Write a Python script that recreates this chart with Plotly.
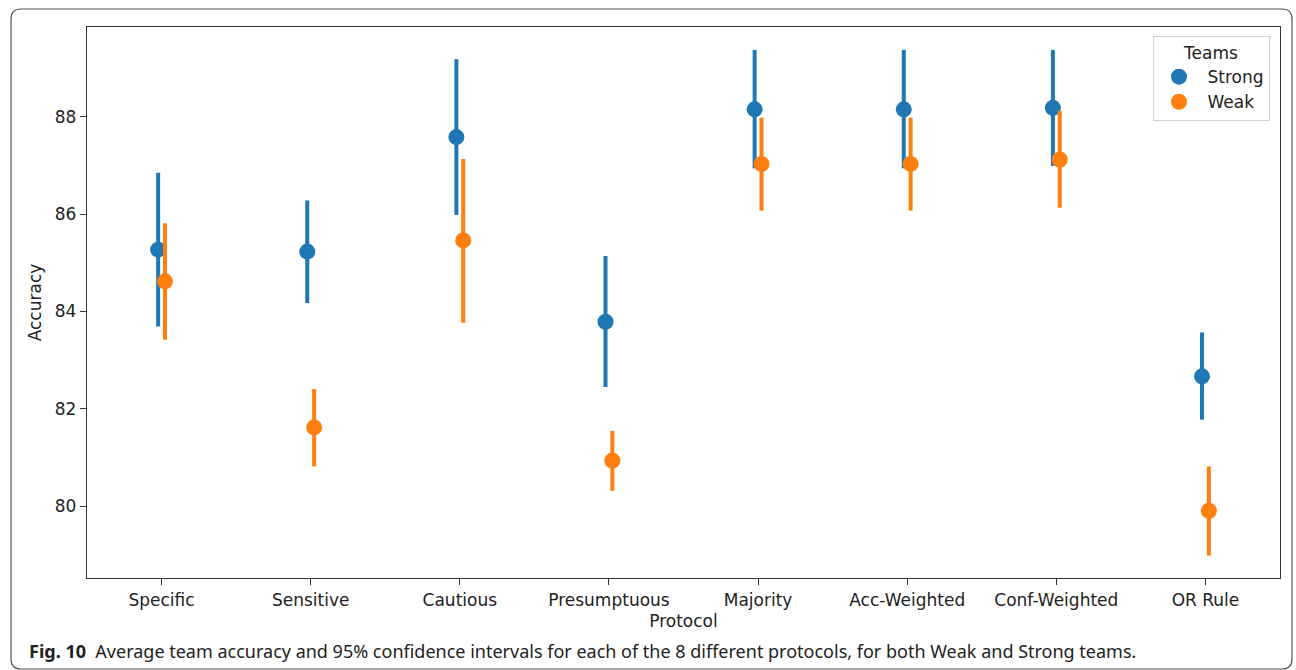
import plotly.graph_objects as go

protocols = ["Specific", "Sensitive", "Cautious", "Presumptuous", "Majority",
             "Acc-Weighted", "Conf-Weighted", "OR Rule"]

strong_mean = [85.27, 85.23, 87.58, 83.79, 88.15, 88.15, 88.18, 82.67]
strong_low = [83.69, 84.17, 85.98, 82.45, 86.94, 86.94, 86.99, 81.78]
strong_high = [86.85, 86.28, 89.18, 85.14, 89.37, 89.37, 89.37, 83.57]

weak_mean = [84.62, 81.62, 85.46, 80.94, 87.03, 87.03, 87.12, 79.91]
weak_low = [83.42, 80.82, 83.77, 80.32, 86.07, 86.07, 86.13, 78.99]
weak_high = [85.81, 82.41, 87.13, 81.55, 87.98, 87.98, 88.12, 80.82]

y_ticks = [80, 82, 84, 86, 88]

BLUE = "#1f77b4"
ORANGE = "#ff7f0e"
FONT = "DejaVu Sans"

W, H = 1296, 670
ML, MR, MT, MB = 87, 16, 27, 92
PW, PH = W - ML - MR, H - MT - MB


def px(x):
    return (x - ML) / PW


def py(y):
    return (H - MB - y) / PH


fig = go.Figure()

for name, mean, low, high, color in [
    ("Strong", strong_mean, strong_low, strong_high, BLUE),
    ("Weak", weak_mean, weak_low, weak_high, ORANGE),
]:
    fig.add_trace(go.Scatter(
        x=protocols, y=mean, name="\u2002" + name, mode="markers",
        offsetgroup=name,
        marker=dict(color=color, size=16, line=dict(width=0)),
        error_y=dict(type="data", symmetric=False,
                     array=[h - m for h, m in zip(high, mean)],
                     arrayminus=[m - l for m, l in zip(mean, low)],
                     color=color, thickness=4, width=0),
        showlegend=True,
    ))

# outer rounded frame
L, T, R, B, r = 11, 9, 1292, 669, 10
path = (f"M {px(L)},{py(B - r)} L {px(L)},{py(T + r)} Q {px(L)},{py(T)} {px(L + r)},{py(T)} "
        f"L {px(R - r)},{py(T)} Q {px(R)},{py(T)} {px(R)},{py(T + r)} "
        f"L {px(R)},{py(B - r)} Q {px(R)},{py(B)} {px(R - r)},{py(B)} "
        f"L {px(L + r)},{py(B)} Q {px(L)},{py(B)} {px(L)},{py(B - r)}")
fig.add_shape(type="path", path=path, xref="paper", yref="paper",
              line=dict(color="#555555", width=1.2), layer="below")

fig.add_annotation(
    x=px(27), y=py(651), xref="paper", yref="paper", xanchor="left", yanchor="middle",
    showarrow=False,
    text="<b>Fig. 10</b>  Average team accuracy and 95% confidence intervals for each of the 8 different protocols, for both Weak and Strong teams.",
    font=dict(family="Noto Sans", size=18, color="#222222"),
)

fig.update_layout(
    width=W, height=H,
    margin=dict(l=ML, r=MR, t=MT, b=MB),
    paper_bgcolor="white", plot_bgcolor="white",
    scattermode="group", scattergap=0.908,
    font=dict(family=FONT, size=17, color="#222222"),
    legend=dict(
        title=dict(text="Teams", side="top center", font=dict(size=17)),
        x=px(1270), y=py(36), xanchor="right", yanchor="top",
        bgcolor="white", bordercolor="#d0d0d0", borderwidth=1,
        font=dict(size=17), indentation=5,
    ),
    xaxis=dict(
        title=dict(text="Protocol", standoff=6, font=dict(size=17)),
        range=[-0.5, 7.5], showline=True, linecolor="#333333", linewidth=1.3,
        mirror=True, ticks="outside", ticklen=6, tickcolor="#333333",
        showgrid=False, zeroline=False, tickfont=dict(size=17),
    ),
    yaxis=dict(
        title=dict(text="Accuracy", standoff=8, font=dict(size=17)),
        range=[78.53, 89.84], tickvals=y_ticks, showline=True,
        linecolor="#333333", linewidth=1.3, mirror=True, ticks="outside",
        ticklen=6, tickcolor="#333333", showgrid=False, zeroline=False,
        tickfont=dict(size=17),
    ),
)

fig.write_html("out.html")
